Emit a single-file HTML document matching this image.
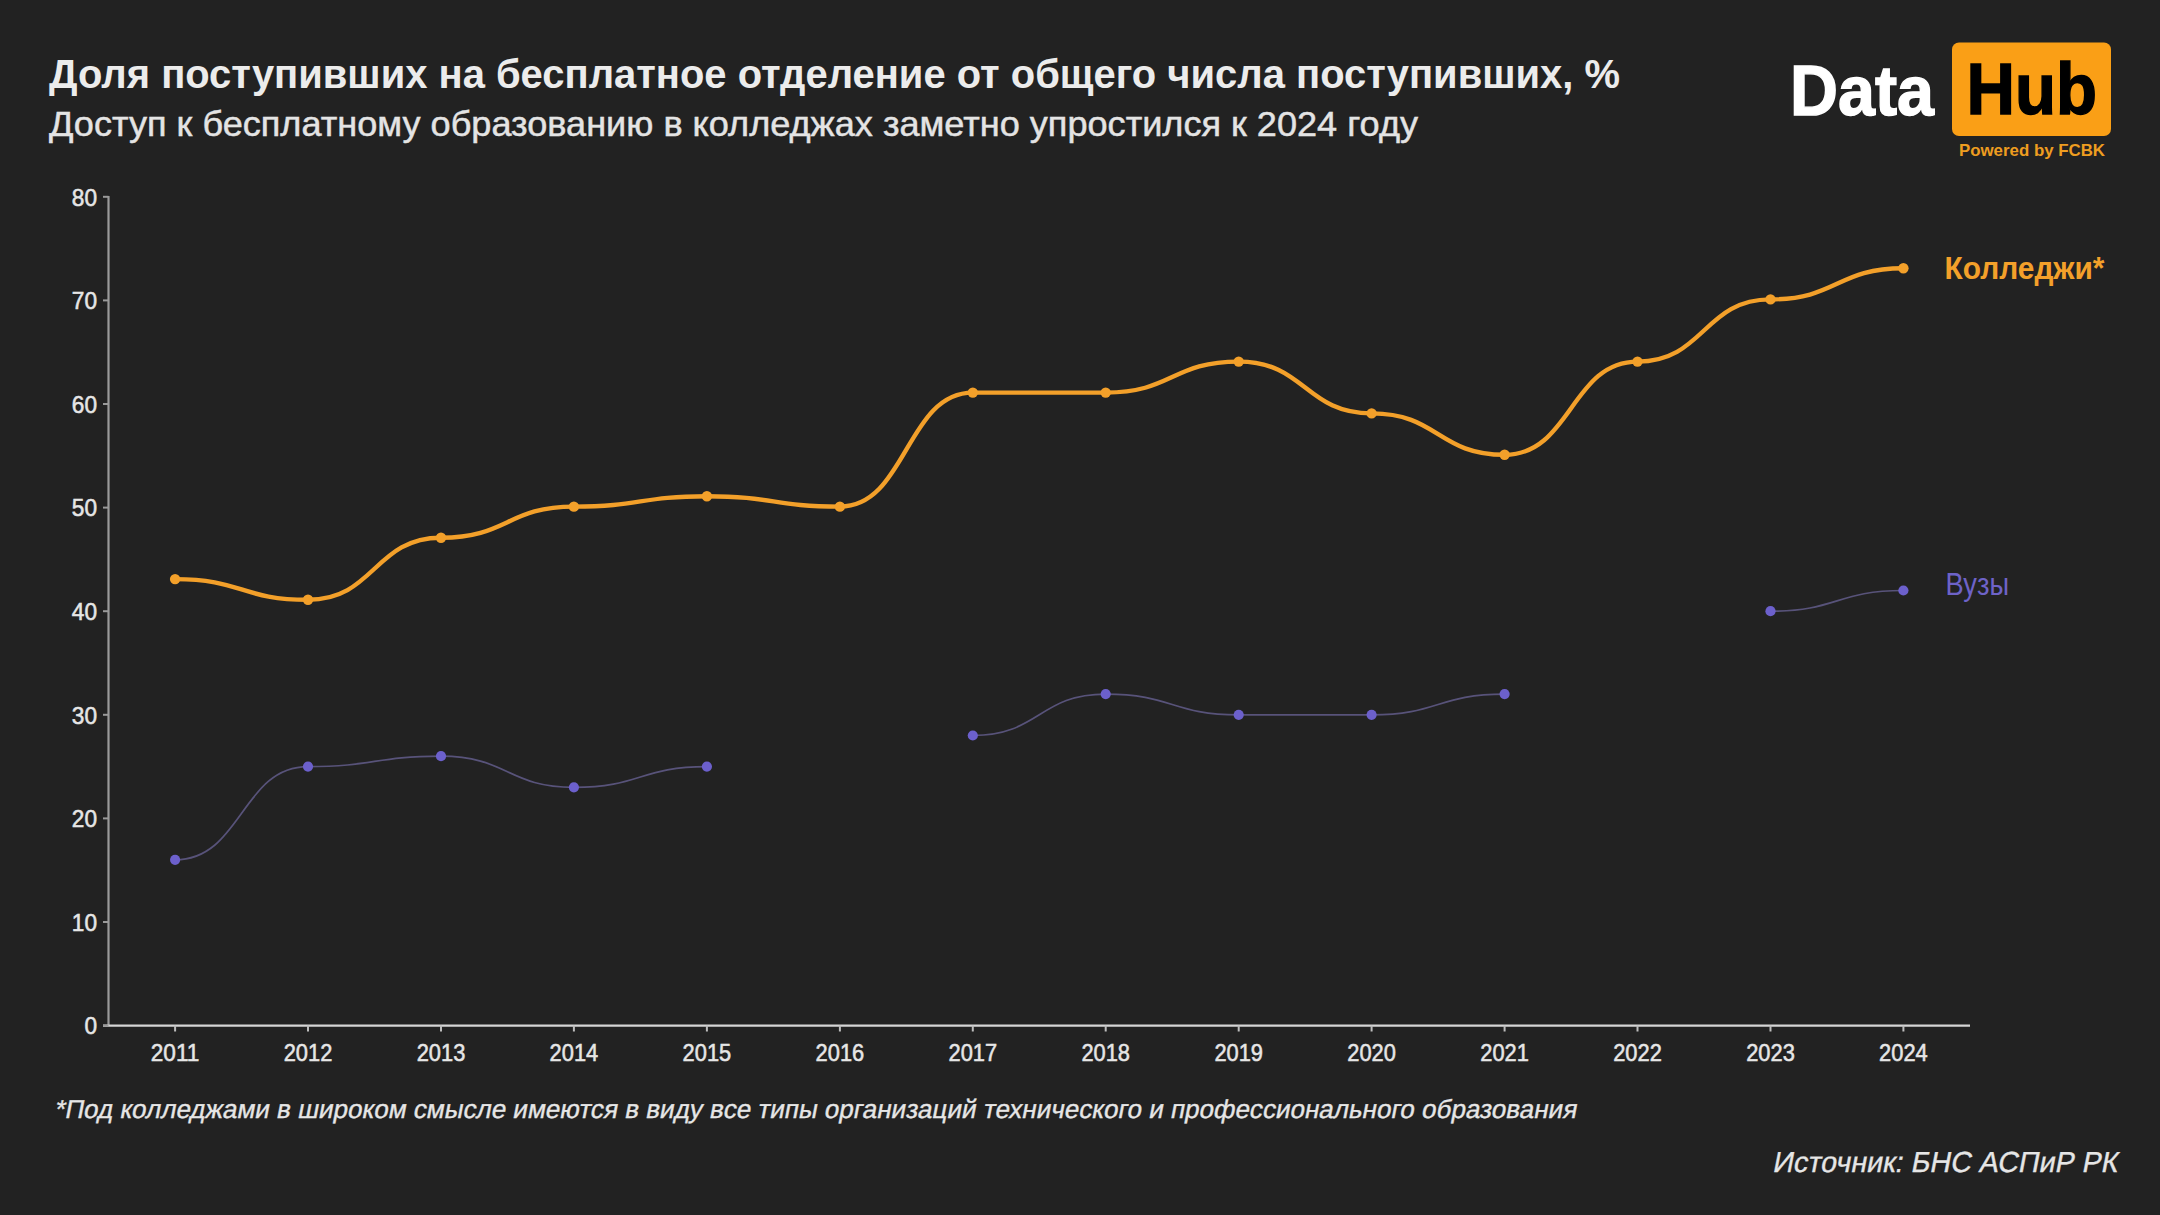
<!DOCTYPE html>
<html><head><meta charset="utf-8"><style>
html,body{margin:0;padding:0;background:#222222;}
body{width:2160px;height:1215px;overflow:hidden;}
svg{display:block;}
text{font-family:"Liberation Sans",sans-serif;}
.ax{font-size:24.5px;fill:#e6e6e6;stroke:#e6e6e6;stroke-width:0.55px;}
.title{font-size:40.5px;font-weight:bold;fill:#ececec;}
.sub{font-size:34.5px;fill:#e4e4e4;stroke:#e4e4e4;stroke-width:0.45px;}
.lgc{font-size:30.5px;font-weight:bold;fill:#f3a02a;}
.lgu{font-size:30.5px;fill:#6e63c8;}
.foot{font-size:26px;fill:#e6e6e6;stroke:#e6e6e6;stroke-width:0.35px;}
.src{font-size:29px;fill:#e6e6e6;stroke:#e6e6e6;stroke-width:0.35px;}
.logoW{font-size:69px;font-weight:bold;fill:#ffffff;stroke:#ffffff;stroke-width:1.4px;}
.logoB{font-size:69px;font-weight:bold;fill:#000000;stroke:#000000;stroke-width:1.4px;}
.pow{font-size:16.5px;font-weight:bold;fill:#ee9d20;}
</style></head><body>
<svg width="2160" height="1215" viewBox="0 0 2160 1215">
<rect width="2160" height="1215" fill="#222222"/>
<line x1="108.5" y1="196" x2="108.5" y2="1026" stroke="#9a9a9a" stroke-width="2.2"/>
<line x1="103" y1="1025.6" x2="1970" y2="1025.6" stroke="#d6d6d6" stroke-width="2.4"/>
<line x1="103" y1="1025.6" x2="108.5" y2="1025.6" stroke="#9a9a9a" stroke-width="2"/>
<text x="84.4" y="1034.4" class="ax" textLength="12.6" lengthAdjust="spacingAndGlyphs">0</text>
<line x1="103" y1="922.0" x2="108.5" y2="922.0" stroke="#9a9a9a" stroke-width="2"/>
<text x="71.8" y="930.8" class="ax" textLength="25.2" lengthAdjust="spacingAndGlyphs">10</text>
<line x1="103" y1="818.4" x2="108.5" y2="818.4" stroke="#9a9a9a" stroke-width="2"/>
<text x="71.8" y="827.2" class="ax" textLength="25.2" lengthAdjust="spacingAndGlyphs">20</text>
<line x1="103" y1="714.8" x2="108.5" y2="714.8" stroke="#9a9a9a" stroke-width="2"/>
<text x="71.8" y="723.6" class="ax" textLength="25.2" lengthAdjust="spacingAndGlyphs">30</text>
<line x1="103" y1="611.2" x2="108.5" y2="611.2" stroke="#9a9a9a" stroke-width="2"/>
<text x="71.8" y="620.0" class="ax" textLength="25.2" lengthAdjust="spacingAndGlyphs">40</text>
<line x1="103" y1="507.6" x2="108.5" y2="507.6" stroke="#9a9a9a" stroke-width="2"/>
<text x="71.8" y="516.4" class="ax" textLength="25.2" lengthAdjust="spacingAndGlyphs">50</text>
<line x1="103" y1="404.0" x2="108.5" y2="404.0" stroke="#9a9a9a" stroke-width="2"/>
<text x="71.8" y="412.8" class="ax" textLength="25.2" lengthAdjust="spacingAndGlyphs">60</text>
<line x1="103" y1="300.4" x2="108.5" y2="300.4" stroke="#9a9a9a" stroke-width="2"/>
<text x="71.8" y="309.2" class="ax" textLength="25.2" lengthAdjust="spacingAndGlyphs">70</text>
<line x1="103" y1="196.8" x2="108.5" y2="196.8" stroke="#9a9a9a" stroke-width="2"/>
<text x="71.8" y="205.6" class="ax" textLength="25.2" lengthAdjust="spacingAndGlyphs">80</text>
<line x1="175.1" y1="1025.6" x2="175.1" y2="1031.5" stroke="#bdbdbd" stroke-width="2"/>
<text x="150.8" y="1061" class="ax" textLength="48.6" lengthAdjust="spacingAndGlyphs">2011</text>
<line x1="308.0" y1="1025.6" x2="308.0" y2="1031.5" stroke="#bdbdbd" stroke-width="2"/>
<text x="283.7" y="1061" class="ax" textLength="48.6" lengthAdjust="spacingAndGlyphs">2012</text>
<line x1="441.0" y1="1025.6" x2="441.0" y2="1031.5" stroke="#bdbdbd" stroke-width="2"/>
<text x="416.7" y="1061" class="ax" textLength="48.6" lengthAdjust="spacingAndGlyphs">2013</text>
<line x1="573.9" y1="1025.6" x2="573.9" y2="1031.5" stroke="#bdbdbd" stroke-width="2"/>
<text x="549.6" y="1061" class="ax" textLength="48.6" lengthAdjust="spacingAndGlyphs">2014</text>
<line x1="706.9" y1="1025.6" x2="706.9" y2="1031.5" stroke="#bdbdbd" stroke-width="2"/>
<text x="682.6" y="1061" class="ax" textLength="48.6" lengthAdjust="spacingAndGlyphs">2015</text>
<line x1="839.9" y1="1025.6" x2="839.9" y2="1031.5" stroke="#bdbdbd" stroke-width="2"/>
<text x="815.6" y="1061" class="ax" textLength="48.6" lengthAdjust="spacingAndGlyphs">2016</text>
<line x1="972.8" y1="1025.6" x2="972.8" y2="1031.5" stroke="#bdbdbd" stroke-width="2"/>
<text x="948.5" y="1061" class="ax" textLength="48.6" lengthAdjust="spacingAndGlyphs">2017</text>
<line x1="1105.7" y1="1025.6" x2="1105.7" y2="1031.5" stroke="#bdbdbd" stroke-width="2"/>
<text x="1081.4" y="1061" class="ax" textLength="48.6" lengthAdjust="spacingAndGlyphs">2018</text>
<line x1="1238.7" y1="1025.6" x2="1238.7" y2="1031.5" stroke="#bdbdbd" stroke-width="2"/>
<text x="1214.4" y="1061" class="ax" textLength="48.6" lengthAdjust="spacingAndGlyphs">2019</text>
<line x1="1371.6" y1="1025.6" x2="1371.6" y2="1031.5" stroke="#bdbdbd" stroke-width="2"/>
<text x="1347.3" y="1061" class="ax" textLength="48.6" lengthAdjust="spacingAndGlyphs">2020</text>
<line x1="1504.6" y1="1025.6" x2="1504.6" y2="1031.5" stroke="#bdbdbd" stroke-width="2"/>
<text x="1480.3" y="1061" class="ax" textLength="48.6" lengthAdjust="spacingAndGlyphs">2021</text>
<line x1="1637.5" y1="1025.6" x2="1637.5" y2="1031.5" stroke="#bdbdbd" stroke-width="2"/>
<text x="1613.2" y="1061" class="ax" textLength="48.6" lengthAdjust="spacingAndGlyphs">2022</text>
<line x1="1770.5" y1="1025.6" x2="1770.5" y2="1031.5" stroke="#bdbdbd" stroke-width="2"/>
<text x="1746.2" y="1061" class="ax" textLength="48.6" lengthAdjust="spacingAndGlyphs">2023</text>
<line x1="1903.4" y1="1025.6" x2="1903.4" y2="1031.5" stroke="#bdbdbd" stroke-width="2"/>
<text x="1879.1" y="1061" class="ax" textLength="48.6" lengthAdjust="spacingAndGlyphs">2024</text>
<path d="M175.1,859.8 C241.6,859.8 241.6,766.6 308.0,766.6 C374.5,766.6 374.5,756.2 441.0,756.2 C507.5,756.2 507.5,787.3 573.9,787.3 C640.4,787.3 640.4,766.6 706.9,766.6" fill="none" stroke="#58537a" stroke-width="1.7"/>
<path d="M972.8,735.5 C1039.3,735.5 1039.3,694.1 1105.7,694.1 C1172.2,694.1 1172.2,714.8 1238.7,714.8 C1305.2,714.8 1305.2,714.8 1371.6,714.8 C1438.1,714.8 1438.1,694.1 1504.6,694.1" fill="none" stroke="#58537a" stroke-width="1.7"/>
<path d="M1770.5,611.2 C1837.0,611.2 1837.0,590.5 1903.4,590.5" fill="none" stroke="#58537a" stroke-width="1.7"/>
<circle cx="175.1" cy="859.8" r="5.1" fill="#6c60cc"/>
<circle cx="308.0" cy="766.6" r="5.1" fill="#6c60cc"/>
<circle cx="441.0" cy="756.2" r="5.1" fill="#6c60cc"/>
<circle cx="573.9" cy="787.3" r="5.1" fill="#6c60cc"/>
<circle cx="706.9" cy="766.6" r="5.1" fill="#6c60cc"/>
<circle cx="972.8" cy="735.5" r="5.1" fill="#6c60cc"/>
<circle cx="1105.7" cy="694.1" r="5.1" fill="#6c60cc"/>
<circle cx="1238.7" cy="714.8" r="5.1" fill="#6c60cc"/>
<circle cx="1371.6" cy="714.8" r="5.1" fill="#6c60cc"/>
<circle cx="1504.6" cy="694.1" r="5.1" fill="#6c60cc"/>
<circle cx="1770.5" cy="611.2" r="5.1" fill="#6c60cc"/>
<circle cx="1903.4" cy="590.5" r="5.1" fill="#6c60cc"/>
<path d="M175.1,579.1 C241.6,579.1 241.6,599.8 308.0,599.8 C374.5,599.8 374.5,537.7 441.0,537.7 C507.5,537.7 507.5,506.6 573.9,506.6 C640.4,506.6 640.4,496.2 706.9,496.2 C773.4,496.2 773.4,506.6 839.9,506.6 C906.3,506.6 906.3,392.6 972.8,392.6 C1039.3,392.6 1039.3,392.6 1105.7,392.6 C1172.2,392.6 1172.2,361.6 1238.7,361.6 C1305.2,361.6 1305.2,413.4 1371.6,413.4 C1438.1,413.4 1438.1,454.8 1504.6,454.8 C1571.1,454.8 1571.1,361.6 1637.5,361.6 C1704.0,361.6 1704.0,299.4 1770.5,299.4 C1837.0,299.4 1837.0,268.3 1903.4,268.3" fill="none" stroke="#f3a02a" stroke-width="4.4"/>
<circle cx="175.1" cy="579.1" r="5.2" fill="#f3a02a"/>
<circle cx="308.0" cy="599.8" r="5.2" fill="#f3a02a"/>
<circle cx="441.0" cy="537.7" r="5.2" fill="#f3a02a"/>
<circle cx="573.9" cy="506.6" r="5.2" fill="#f3a02a"/>
<circle cx="706.9" cy="496.2" r="5.2" fill="#f3a02a"/>
<circle cx="839.9" cy="506.6" r="5.2" fill="#f3a02a"/>
<circle cx="972.8" cy="392.6" r="5.2" fill="#f3a02a"/>
<circle cx="1105.7" cy="392.6" r="5.2" fill="#f3a02a"/>
<circle cx="1238.7" cy="361.6" r="5.2" fill="#f3a02a"/>
<circle cx="1371.6" cy="413.4" r="5.2" fill="#f3a02a"/>
<circle cx="1504.6" cy="454.8" r="5.2" fill="#f3a02a"/>
<circle cx="1637.5" cy="361.6" r="5.2" fill="#f3a02a"/>
<circle cx="1770.5" cy="299.4" r="5.2" fill="#f3a02a"/>
<circle cx="1903.4" cy="268.3" r="5.2" fill="#f3a02a"/>
<rect x="1952" y="42.5" width="159" height="93.5" rx="7" fill="#fa9f16"/>
<text x="49" y="87.8" class="title" text-anchor="start" textLength="1571" lengthAdjust="spacingAndGlyphs">Доля поступивших на бесплатное отделение от общего числа поступивших, %</text>
<text x="49" y="136.4" class="sub" text-anchor="start" textLength="1369" lengthAdjust="spacingAndGlyphs">Доступ к бесплатному образованию в колледжах заметно упростился к 2024 году</text>
<text x="1944.5" y="279" class="lgc" text-anchor="start" textLength="160" lengthAdjust="spacingAndGlyphs">Колледжи*</text>
<text x="1945.5" y="594.6" class="lgu" text-anchor="start" textLength="63.5" lengthAdjust="spacingAndGlyphs">Вузы</text>
<text transform="translate(54,1117.8) skewX(-11)" x="0" y="0" class="foot" text-anchor="start" textLength="1522" lengthAdjust="spacingAndGlyphs">*Под колледжами в широком смысле имеются в виду все типы организаций технического и профессионального образования</text>
<text transform="translate(1772,1171.7) skewX(-11)" x="0" y="0" class="src" text-anchor="start" textLength="345" lengthAdjust="spacingAndGlyphs">Источник: БНС АСПиР РК</text>
<text transform="translate(1790,114.5) scale(1,1.03)" x="0" y="0" class="logoW" text-anchor="start" textLength="144" lengthAdjust="spacingAndGlyphs">Data</text>
<text transform="translate(1966.5,113.7) scale(1,1.05)" x="0" y="0" class="logoB" text-anchor="start" textLength="130.5" lengthAdjust="spacingAndGlyphs">Hub</text>
<text x="1959" y="156.3" class="pow" text-anchor="start" textLength="146" lengthAdjust="spacingAndGlyphs">Powered by FCBK</text>
</svg>
</body></html>
